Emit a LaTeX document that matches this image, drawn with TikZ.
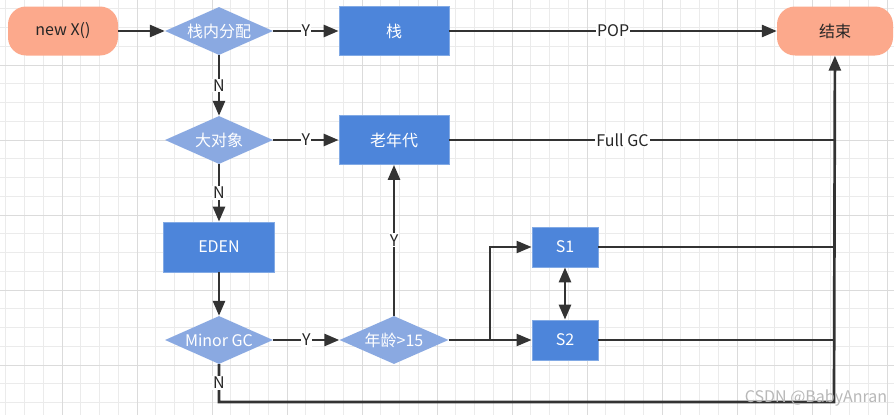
\documentclass[tikz,border=0pt]{standalone}
\usepackage{fontspec}
\setmainfont{Noto Sans CJK SC}
\usetikzlibrary{shapes.geometric,arrows.meta}
\definecolor{pillc}{HTML}{FCA98C}
\definecolor{boxc}{HTML}{4D85DA}
\definecolor{diac}{HTML}{8AA9E1}
\definecolor{linec}{HTML}{333333}
\definecolor{gridminor}{HTML}{EBEBEB}
\definecolor{gridmajor}{HTML}{DBDBDB}

\begin{document}
\begin{tikzpicture}[x=1pt,y=-1pt,font=\fontsize{16}{18}\selectfont]
      \tikzstyle{pill}=[rectangle,rounded corners=18pt,fill=pillc,minimum width=110pt,minimum height=49pt,text=black!85]
      \tikzstyle{box}=[rectangle,fill=boxc,draw=boxc!70!white,line width=0.8pt,text=white,minimum width=110pt,minimum height=49pt]
      \tikzstyle{ask}=[diamond,aspect=2.25,fill=diac,text=white,minimum width=108pt,minimum height=48pt,inner sep=0pt]
      \tikzstyle{link}=[draw=linec,line width=2.7pt,-{Triangle[length=15pt,width=12pt]}]
      \tikzstyle{plain}=[draw=linec,line width=2.7pt]
      \tikzstyle{tag}=[fill=white,inner sep=1pt,text=black!85]
      \useasboundingbox (0,0) rectangle (894,415);
      \fill[white] (0,0) rectangle (894,415);
      % grid
      \foreach \gx in {5.75,24.5,...,894} \draw[gridminor,line width=0.9pt] (\gx,0) -- (\gx,415);
      \foreach \gy in {8.75,27.5,...,415} \draw[gridminor,line width=0.9pt] (0,\gy) -- (894,\gy);
      \foreach \gx in {62,137,...,894} \draw[gridmajor,line width=1pt] (\gx,0) -- (\gx,415);
      \foreach \gy in {65,140,...,415} \draw[gridmajor,line width=1pt] (0,\gy) -- (894,\gy);
      % nodes
      \node[pill] (new) at (63,31) {new X()};
      \node[ask] (inStack) at (219,31) {栈内分配};
      \node[box] (stack) at (394,31) {栈};
      \node[pill,minimum width=116pt] (end) at (835,31) {结束};
      \node[ask] (big) at (219,140) {大对象};
      \node[box] (old) at (394,140) {老年代};
      \node[box,minimum width=111pt,minimum height=50pt] (eden) at (219,247) {EDEN};
      \node[ask] (minor) at (219,340) {Minor GC};
      \node[ask,minimum width=109pt] (age) at (394,340) {年龄>15};
      \node[box,minimum width=66pt,minimum height=40pt] (s1) at (565,247) {S1};
      \node[box,minimum width=66pt,minimum height=40pt] (s2) at (565,340) {S2};
      \coordinate (fork) at (490,340);
      \coordinate (bottom) at (834,402);
      % edges
      \draw[link] (new) -- (inStack);
      \draw[link] (inStack) -- node[tag]{Y} (stack);
      \draw[link] (stack) -- node[tag]{POP} (end);
      \draw[link] (inStack) -- node[tag]{N} (big);
      \draw[link] (big) -- node[tag]{Y} (old);
      \draw[plain] (old) -- node[tag,pos=0.45]{Full GC} (old -| bottom);
      \draw[link] (big) -- node[tag]{N} (eden);
      \draw[link] (eden) -- (minor);
      \draw[link] (minor) -- node[tag]{Y} (age);
      \draw[link] (age) -- node[tag]{Y} (old);
      \draw[link,line width=2.1pt] (age) -- (s2);
      \draw[link,line width=2.1pt] (fork) |- (s1);
      \draw[link,{Triangle[length=15pt,width=12pt]}-{Triangle[length=15pt,width=12pt]}] (s1) -- (s2);
      \draw[plain] (s1) -- (s1 -| bottom);
      \draw[plain] (s2) -- (s2 -| bottom);
      \draw[link] (minor) |- node[tag,pos=0.25]{N} (bottom) -- (end);
      \node[text=black!28] (mark) at (816,398) {CSDN @BabyAnran};
\end{tikzpicture}
\end{document}
